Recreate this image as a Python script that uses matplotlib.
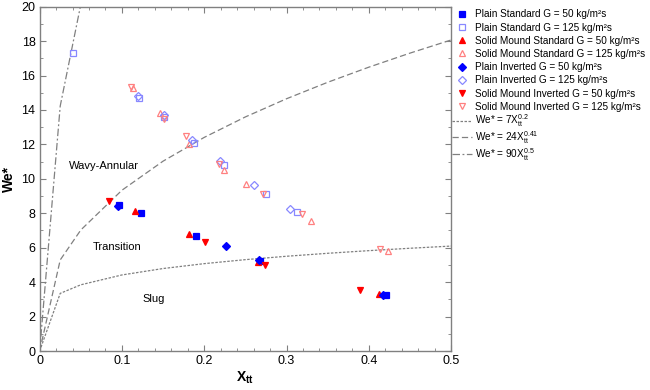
import numpy as np
import matplotlib
matplotlib.use("Agg")
import matplotlib.pyplot as plt

plt.rcParams['font.family'] = ['Liberation Sans', 'DejaVu Sans']
plt.rcParams['mathtext.fontset'] = 'custom'
plt.rcParams['mathtext.rm'] = 'Liberation Sans'
plt.rcParams['mathtext.it'] = 'Liberation Sans:italic'
plt.rcParams['mathtext.bf'] = 'Liberation Sans:bold'
plt.rcParams['mathtext.default'] = 'regular'

# ---- data ----
ps50_x = [0.097, 0.123, 0.190, 0.268, 0.421]
ps50_y = [8.50, 8.02, 6.67, 5.25, 3.26]
ps125_x = [0.041, 0.1205, 0.1515, 0.1875, 0.224, 0.275, 0.3123]
ps125_y = [17.3, 14.70, 13.58, 12.07, 10.79, 9.09, 8.06]
ms50_x = [0.116, 0.181, 0.265, 0.412]
ms50_y = [8.14, 6.80, 5.16, 3.33]
ms125_x = [0.113, 0.146, 0.182, 0.224, 0.2504, 0.330, 0.423]
ms125_y = [15.30, 13.80, 12.00, 10.54, 9.71, 7.54, 5.81]
pi50_x = [0.095, 0.227, 0.266, 0.417]
pi50_y = [8.45, 6.09, 5.30, 3.26]
pi125_x = [0.1197, 0.1515, 0.185, 0.2197, 0.2605, 0.304]
pi125_y = [14.80, 13.72, 12.25, 11.03, 9.63, 8.24]
mi50_x = [0.084, 0.2006, 0.274, 0.389]
mi50_y = [8.72, 6.32, 4.98, 3.55]
mi125_x = [0.111, 0.1515, 0.178, 0.218, 0.2714, 0.319, 0.4138]
mi125_y = [15.35, 13.49, 12.46, 10.85, 9.09, 7.93, 5.95]

# transition criteria We* = C * Xtt^n
crit_C = [7, 24, 90]
crit_n = [0.2, 0.41, 0.5]
crit_x = np.array([0, 0.025, 0.05, 0.1, 0.15, 0.2, 0.25, 0.3, 0.35, 0.4, 0.45, 0.5])

BLUE = '#0000ff'
RED = '#ff0000'
LBLUE = '#8888ff'
LRED = '#ff8080'

fig = plt.figure(figsize=(6.5, 3.9), dpi=100)
ax = fig.add_axes([0.061, 0.1, 0.633, 0.883])

ms = 5
series = [
    (ps50_x, ps50_y, 's', BLUE, True, 'Plain Standard G = 50 kg/m²s'),
    (ps125_x, ps125_y, 's', LBLUE, False, 'Plain Standard G = 125 kg/m²s'),
    (ms50_x, ms50_y, '^', RED, True, 'Solid Mound Standard G = 50 kg/m²s'),
    (ms125_x, ms125_y, '^', LRED, False, 'Solid Mound Standard G = 125 kg/m²s'),
    (pi50_x, pi50_y, 'D', BLUE, True, 'Plain Inverted G = 50 kg/m²s'),
    (pi125_x, pi125_y, 'D', LBLUE, False, 'Plain Inverted G = 125 kg/m²s'),
    (mi50_x, mi50_y, 'v', RED, True, 'Solid Mound Inverted G = 50 kg/m²s'),
    (mi125_x, mi125_y, 'v', LRED, False, 'Solid Mound Inverted G = 125 kg/m²s'),
]
h_marks = []
for x, y, m, c, filled, lab in series:
    size = ms * 0.85 if m == 'D' else ms
    h, = ax.plot(x, y, linestyle='none', marker=m, markersize=size,
                 markerfacecolor=c if filled else 'none', markeredgecolor=c,
                 markeredgewidth=0.9, label=lab, zorder=3)
    h_marks.append(h)

styles = [(0, (2, 1.2)), (0, (5, 2.5)), (0, (6, 2, 1.5, 2))]
labels_c = [r'We* = 7X$_{tt}^{0.2}$', r'We* = 24X$_{tt}^{0.41}$', r'We* = 90X$_{tt}^{0.5}$']
h_lines = []
for C, n, st, lab in zip(crit_C, crit_n, styles, labels_c):
    h, = ax.plot(crit_x, C * crit_x ** n, color='#808080', lw=0.9, linestyle=st,
                 label=lab, zorder=2)
    h_lines.append(h)

ax.text(0.0356, 10.77, 'Wavy-Annular', fontsize=8, va='center', ha='left')
ax.text(0.064, 6.06, 'Transition', fontsize=8, va='center', ha='left')
ax.text(0.125, 3.02, 'Slug', fontsize=8, va='center', ha='left')

ax.set_xlim(0, 0.5)
ax.set_ylim(0, 20)
ax.set_xticks(np.arange(0, 0.51, 0.1))
ax.set_xticklabels(['0', '0.1', '0.2', '0.3', '0.4', '0.5'])
ax.set_xticks(np.arange(0, 0.501, 0.02), minor=True)
ax.set_yticks(np.arange(0, 21, 2))
ax.set_yticks(np.arange(0, 21, 1), minor=True)
ax.tick_params(which='both', direction='in', top=True, right=True,
               color='#808080', labelsize=9, pad=3)
ax.tick_params(which='major', length=4)
ax.tick_params(which='minor', length=2.5)
for s in ax.spines.values():
    s.set_color('#808080')
    s.set_linewidth(1.0)

ax.set_xlabel(r'$\mathbf{X}_{\mathbf{tt}}$', fontsize=10, labelpad=2)
ax.set_ylabel('We*', fontsize=10, fontweight='bold', labelpad=4)

leg1 = fig.legend(handles=h_marks, loc='upper left', bbox_to_anchor=(0.696, 0.976),
                  frameon=False, fontsize=7.2, handlelength=2.0, handletextpad=0.3,
                  labelspacing=0.32, borderaxespad=0, borderpad=0, markerscale=0.9)
leg2 = fig.legend(handles=h_lines, loc='upper left', bbox_to_anchor=(0.696, 0.712),
                  frameon=False, fontsize=7.2, handlelength=2.0, handletextpad=0.3,
                  labelspacing=0.0, borderaxespad=0, borderpad=0)

fig.savefig('out.png', dpi=100)
